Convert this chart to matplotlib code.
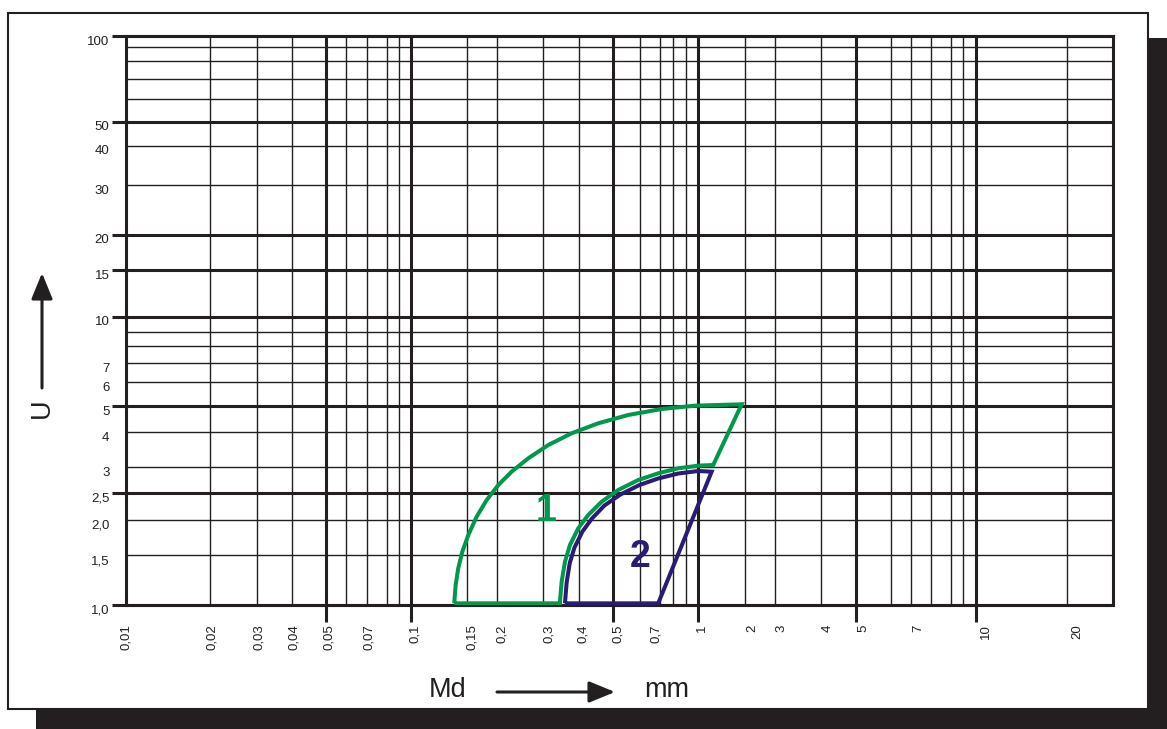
import matplotlib
matplotlib.use('Agg')
import matplotlib.pyplot as plt
import matplotlib.transforms as mtransforms
from matplotlib.patches import Rectangle
from matplotlib.ticker import NullFormatter, NullLocator

plt.rcParams['font.family'] = ['Liberation Sans', 'DejaVu Sans']

# ---------------- data ----------------
# grid lines of the nomogram (Md in mm on x, U on y)
x_grid_thin = [0.0198, 0.029, 0.0385, 0.0598, 0.0707, 0.0832, 0.092,
               0.16, 0.2035, 0.297, 0.397, 0.652, 0.767, 0.855, 0.946,
               1.53, 1.96, 2.84, 5.01, 5.9, 6.94, 8.17, 9.0, 21.0]
x_grid_thick = [0.0509, 0.1016, 0.525, 1.047, 3.77, 10.0]
y_grid_thin = [1.49, 1.99, 3.05, 4.05, 6.06, 7.06, 8.1, 9.12,
               29.9, 41.1, 60.2, 70.6, 81.5, 91.7]
y_grid_thick = [1.0, 2.47, 5.0, 10.3, 15.0, 20.0, 50.0, 100.0]
y_grid_stub = [15.0]

# tick labels (positions as they sit in the reference)
x_tick_pos = [0.01, 0.0201, 0.0295, 0.0392, 0.0521, 0.0721, 0.1047, 0.166,
              0.212, 0.312, 0.412, 0.546, 0.743, 1.08, 1.62, 2.06, 3.01,
              4.0, 6.26, 10.85, 22.9]
x_tick_labels = ['0,01', '0,02', '0,03', '0,04', '0,05', '0,07', '0,1',
                 '0,15', '0,2', '0,3', '0,4', '0,5', '0,7', '1', '2', '3',
                 '4', '5', '7', '10', '20']
y_tick_pos = [1.0, 1.49, 1.99, 2.47, 3.05, 4.05, 5.0, 6.06, 7.06, 10.3,
              15.0, 20.0, 29.9, 41.1, 50.0, 100.0]
y_tick_labels = ['1,0', '1,5', '2,0', '2,5', '3', '4', '5', '6', '7', '10',
                 '15', '20', '30', '40', '50', '100']

# region 1 (green): outer arc, right edge, inner arc, bottom edge
curve1_x = [0.1441, 0.1458, 0.1489, 0.1539, 0.1616, 0.1729, 0.1876, 0.2062,
            0.2298, 0.2631, 0.3095, 0.3743, 0.4646, 0.5929, 0.7779, 1.020,
            1.491, 1.183, 1.047, 0.8903, 0.7566, 0.6432, 0.5467, 0.4776,
            0.4284, 0.3950, 0.3692, 0.3545, 0.3451, 0.3404, 0.3404, 0.1441]
curve1_y = [1.011, 1.173, 1.343, 1.536, 1.758, 2.039, 2.334, 2.636,
            2.936, 3.272, 3.644, 4.007, 4.345, 4.647, 4.878, 5.011,
            5.068, 3.099, 3.083, 3.018, 2.898, 2.745, 2.532, 2.302,
            2.068, 1.857, 1.622, 1.416, 1.205, 1.025, 1.011, 1.011]
# region 2 (navy): arc, top corner, slanted edge, bottom edge
curve2_x = [0.3545, 0.3594, 0.3686, 0.3830, 0.4087, 0.4416, 0.4887, 0.5566,
            0.6495, 0.7566, 0.8903, 1.047, 1.168, 0.7566, 0.3545]
curve2_y = [1.011, 1.197, 1.402, 1.589, 1.809, 2.010, 2.233, 2.441,
            2.636, 2.779, 2.893, 2.953, 2.936, 1.011, 1.011]
label1_pos = (0.305, 2.135)
label2_pos = (0.652, 1.475)

x_limits = (0.01, 30.5)
y_limits = (1.0, 100.0)

# ---------------- styling ----------------
INK = '#231f20'
GREEN = '#00984a'
NAVY = '#2a1b74'
W, H = 1167, 729

fig = plt.figure(figsize=(W / 100, H / 100), dpi=100)
fig.patch.set_facecolor('white')

def fx(px):
    return px / W

def fy(py):
    return 1 - py / H

# shadow + frame
fig.patches.append(Rectangle((fx(1149), fy(729)), fx(18), (729 - 38) / H,
                             transform=fig.transFigure, facecolor=INK,
                             edgecolor='none', zorder=0))
fig.patches.append(Rectangle((fx(36), fy(729)), (1167 - 36) / W, 20 / H,
                             transform=fig.transFigure, facecolor=INK,
                             edgecolor='none', zorder=0))
fig.patches.append(Rectangle((fx(8), fy(709)), (1148 - 8) / W, (709 - 13) / H,
                             transform=fig.transFigure, facecolor='white',
                             edgecolor=INK, lw=1.5, zorder=0.5))

ax = fig.add_axes([fx(126), fy(604.7), (1113 - 126) / W, (604.7 - 36) / H])
ax.set_zorder(3)
ax.set_xscale('log')
ax.set_yscale('log')
ax.set_xlim(*x_limits)
ax.set_ylim(*y_limits)
ax.patch.set_alpha(0)

THIN = 1.0
THICK = 2.2
for v in x_grid_thin:
    ax.axvline(v, color=INK, lw=THIN, zorder=1)
for v in y_grid_thin:
    ax.axhline(v, color=INK, lw=THIN, zorder=1)
ext_x = 14 / 987
ext_y = 17 / 568.7
for v in y_grid_thick:
    ax.axhline(v, xmin=-ext_x, xmax=1, color=INK, lw=THICK, zorder=2,
               clip_on=False, solid_capstyle='butt')
for v in y_grid_stub:
    ax.axhline(v, xmin=-3 / 987, xmax=0, color=INK, lw=THICK, zorder=2,
               clip_on=False, solid_capstyle='butt')
for v in x_grid_thick:
    ax.axvline(v, ymin=-ext_y, ymax=1, color=INK, lw=THICK, zorder=2,
               clip_on=False, solid_capstyle='butt')

for s in ax.spines.values():
    s.set_color(INK)
    s.set_linewidth(THICK)
    s.set_zorder(2)

# ticks / labels
ax.xaxis.set_minor_locator(NullLocator())
ax.yaxis.set_minor_locator(NullLocator())
ax.xaxis.set_minor_formatter(NullFormatter())
ax.yaxis.set_minor_formatter(NullFormatter())
ax.set_xticks(x_tick_pos, x_tick_labels, rotation=90, fontsize=9.5, color=INK)
ax.set_yticks(y_tick_pos, y_tick_labels, fontsize=9.5, color=INK)
ax.tick_params(axis='x', length=0, pad=14)
ax.tick_params(axis='y', length=0, pad=12)
off = mtransforms.ScaledTranslation(0, -3 / 72, fig.dpi_scale_trans)
for lab in ax.get_yticklabels():
    lab.set_transform(lab.get_transform() + off)

# regions
ax.plot(curve1_x, curve1_y, color=GREEN, lw=2.9, zorder=4,
        solid_joinstyle='miter', solid_capstyle='butt')
ax.plot(curve2_x, curve2_y, color=NAVY, lw=2.9, zorder=5,
        solid_joinstyle='miter', solid_capstyle='butt')
ax.text(*label1_pos, '1', color=GREEN, fontsize=27, fontweight='bold',
        ha='center', va='center', zorder=6)
ax.text(*label2_pos, '2', color=NAVY, fontsize=27, fontweight='bold',
        ha='center', va='center', zorder=6)

# axis titles with arrows
fig.text(fx(448), fy(690), 'Md', fontsize=19.5, color=INK, ha='center', va='center')
fig.text(fx(667), fy(690), 'mm', fontsize=19.5, color=INK, ha='center', va='center')
fig.text(fx(42), fy(408), 'U', fontsize=19.5, color=INK, ha='center', va='center',
         rotation=90)
arrow_kw = dict(arrowstyle='-|>,head_length=0.88,head_width=0.36', lw=2.2,
                color=INK, mutation_scale=18, shrinkA=0, shrinkB=0)
ax.annotate('', xy=(fx(615), fy(692)), xytext=(fx(497), fy(692)),
            xycoords='figure fraction', textcoords='figure fraction',
            arrowprops=arrow_kw)
ax.annotate('', xy=(fx(42), fy(273)), xytext=(fx(42), fy(388)),
            xycoords='figure fraction', textcoords='figure fraction',
            arrowprops=arrow_kw)

fig.savefig('out.png', dpi=100, facecolor='white')
